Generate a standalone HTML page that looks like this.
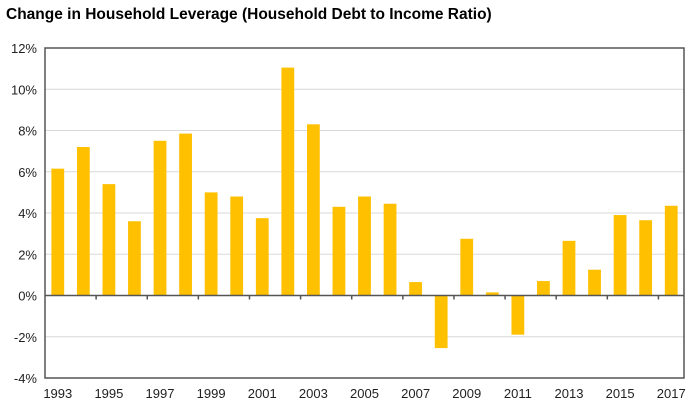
<!DOCTYPE html>
<html><head><style>body{margin:0;background:#fff}</style></head><body>
<svg width="700" height="410" xmlns="http://www.w3.org/2000/svg" font-family="Liberation Sans, Arial, sans-serif">
<text x="6" y="19" font-size="15.5" font-weight="bold" fill="#000">Change in Household Leverage (Household Debt to Income Ratio)</text>
<g id="grid" stroke="#d9d9d9" stroke-width="1">
</g>
<g id="bars" fill="#ffc000"></g>
<g id="axes"></g>
<script>
var vals=[6.15,7.2,5.4,3.6,7.5,7.85,5.0,4.8,3.75,11.05,8.3,4.3,4.8,4.45,0.65,-2.55,2.75,0.15,-1.9,0.7,2.65,1.25,3.9,3.65,4.35];
var L=45,R=684,T=48,B=378,z=295.5,s=(B-T)/16,cw=(R-L)/25,ns="http://www.w3.org/2000/svg";
function el(p,t,a,txt){var e=document.createElementNS(ns,t);for(var k in a)e.setAttribute(k,a[k]);if(txt)e.textContent=txt;document.getElementById(p).appendChild(e);}
for(var v=-4;v<=12;v+=2){var y=z-v*s;if(v!=0&&v!=-4&&v!=12)el('grid','line',{x1:L,x2:R,y1:y,y2:y});
el('axes','text',{x:37,y:y+5,'font-size':13,'text-anchor':'end',fill:'#222'},v+'%');}
vals.forEach(function(v,i){var x=L+cw*i+cw/4;var y=v>=0?z-v*s:z;el('bars','rect',{x:x,y:y,width:cw/2,height:Math.abs(v)*s});});
el('axes','rect',{x:L,y:T,width:R-L,height:B-T,fill:'none',stroke:'#555','stroke-width':1.5});
el('axes','line',{x1:L,x2:R,y1:z,y2:z,stroke:'#555','stroke-width':1.5});
for(var i=2;i<25;i+=2){var x=L+cw*i;el('axes','line',{x1:x,x2:x,y1:z,y2:z+4,stroke:'#555','stroke-width':1.5});}
for(var i=0;i<25;i+=2){var x=L+cw*i+cw/2;el('axes','text',{x:x,y:398,'font-size':13,'text-anchor':'middle',fill:'#222'},1993+i);}
</script>
</svg>
</body></html>
